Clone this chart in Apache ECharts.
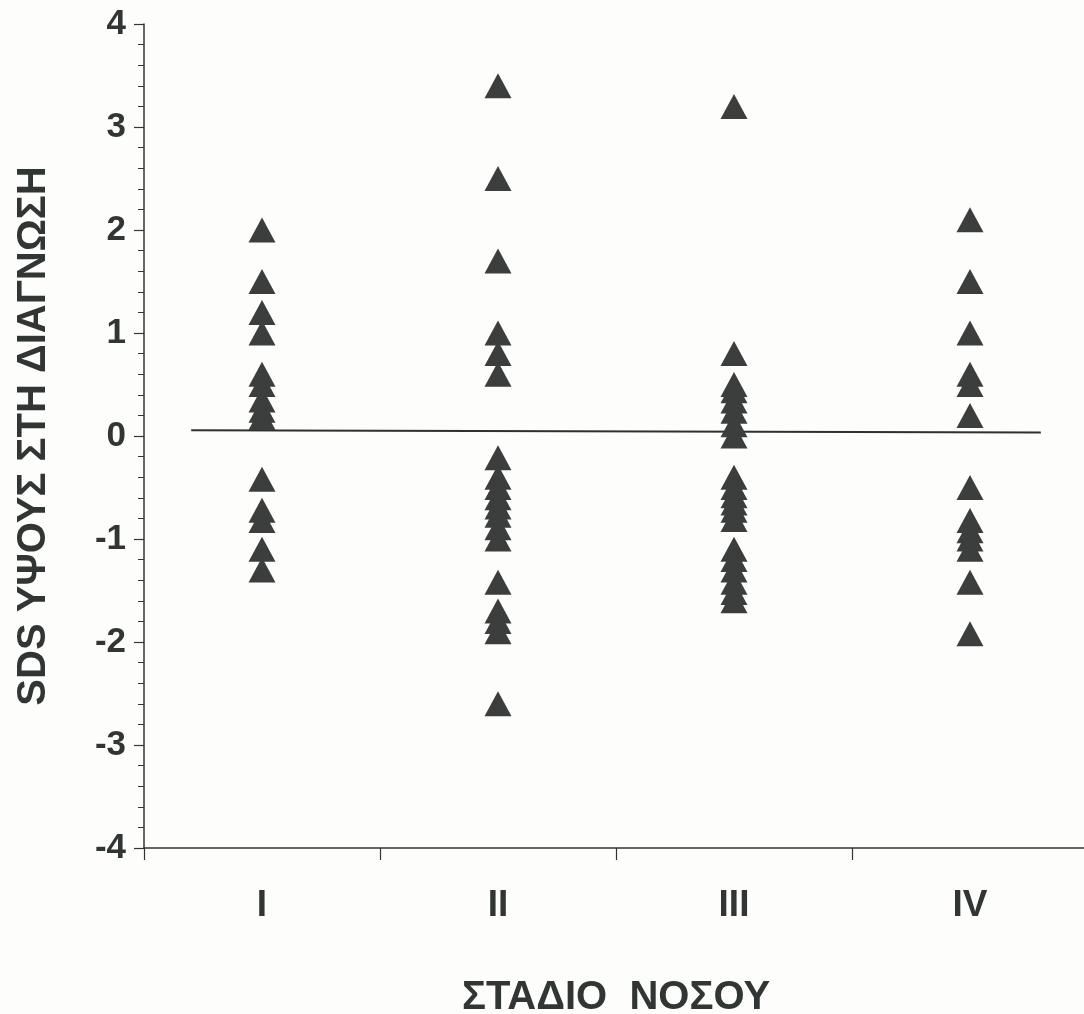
<!DOCTYPE html>
<html>
<head>
<meta charset="utf-8">
<script src="https://cdn.jsdelivr.net/npm/echarts@6/dist/echarts.min.js"></script>
<style>
  html, body { margin: 0; padding: 0; background: #fdfdfc; }
  #chart { width: 1084px; height: 1014px; }
</style>
</head>
<body>
<div id="chart"></div>
<script>
// Disease stage categories
const stages = ['I', 'II', 'III', 'IV'];

// Height SDS at diagnosis, one array per stage
const stageI = [2.0, 1.5, 1.2, 1.0, 0.6, 0.5, 0.35, 0.25, 0.18, -0.42, -0.72, -0.82, -1.1, -1.3];
const stageII = [3.4, 2.5, 1.7, 1.0, 0.8, 0.6, -0.21, -0.4, -0.5, -0.6, -0.69, -0.77, -0.89, -1.0, -1.42, -1.7, -1.8, -1.9, -2.6];
const stageIII = [3.2, 0.8, 0.5, 0.44, 0.34, 0.24, 0.11, 0.0, -0.4, -0.5, -0.58, -0.65, -0.72, -0.81, -1.1, -1.2, -1.3, -1.42, -1.52, -1.6];
const stageIV = [2.1, 1.5, 1.0, 0.6, 0.5, 0.2, -0.5, -0.82, -0.92, -1.0, -1.1, -1.42, -1.92];

// Reference line near zero: ends along the stage span and their SDS values
const refLineX = [0.2, 3.8];
const refLineY = [0.055, 0.035];

// Y axis range and tick step
const yMin = -4, yMax = 4, yStep = 1;

const groups = [stageI, stageII, stageIII, stageIV];
const points = [];
groups.forEach((vals, i) => vals.forEach(v => points.push([stages[i], v])));

const ink = '#313634';
const font = '"Liberation Sans", Arial, sans-serif';
const chart = echarts.init(document.getElementById('chart'));
chart.setOption({
  backgroundColor: '#fdfdfc',
  animation: false,
  grid: {
    left: 144, right: -4, top: 24, bottom: 166,
    containLabel: false,
    outerBoundsMode: 'none'
  },
  xAxis: [
    {
      type: 'category',
      data: stages,
      boundaryGap: true,
      axisLine: { onZero: false, lineStyle: { color: ink, width: 1.5 } },
      axisTick: { show: true, length: 12, lineStyle: { color: ink, width: 1.2 } },
      axisLabel: {
        margin: 39, color: ink, fontSize: 37, fontWeight: 'bold', fontFamily: font
      },
      name: 'ΣΤΑΔΙΟ  ΝΟΣΟΥ',
      nameLocation: 'middle',
      nameGap: 130,
      nameTextStyle: { color: ink, fontSize: 40, fontWeight: 'bold', fontFamily: font }
    },
    { type: 'value', min: 0, max: 4, show: false }
  ],
  yAxis: {
    type: 'value',
    min: yMin, max: yMax, interval: yStep,
    axisLine: { show: true, lineStyle: { color: ink, width: 1.5 } },
    axisTick: { show: true, length: 10, lineStyle: { color: ink, width: 1.2 } },
    minorTick: { show: true, splitNumber: 5, length: 6, lineStyle: { color: ink, width: 1 } },
    splitLine: { show: false },
    axisLabel: { margin: 18, color: ink, fontSize: 35, fontWeight: 'bold', fontFamily: font },
    name: 'SDS ΥΨΟΥΣ ΣΤΗ ΔΙΑΓΝΩΣΗ',
    nameLocation: 'middle',
    nameGap: 90,
    nameTextStyle: { color: ink, fontSize: 40, fontWeight: 'bold', fontFamily: font }
  },
  series: [
    {
      type: 'line',
      xAxisIndex: 1,
      data: refLineX.map((x, i) => [x, refLineY[i]]),
      symbol: 'none',
      lineStyle: { color: '#2b3230', width: 2 },
      z: 2
    },
    {
      type: 'scatter',
      xAxisIndex: 0,
      data: points,
      symbol: 'triangle',
      symbolSize: [27, 25],
      itemStyle: { color: '#3b3e3d', opacity: 1 },
      z: 3
    }
  ]
});
</script>
</body>
</html>
